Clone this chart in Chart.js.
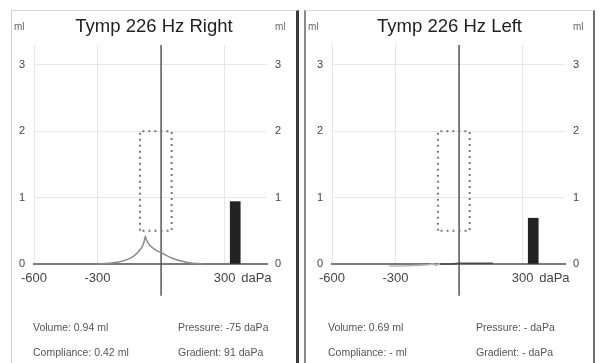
<!DOCTYPE html>
<html>
<head>
<meta charset="utf-8">
<script src="https://cdn.jsdelivr.net/npm/chart.js@4.4.0/dist/chart.umd.min.js"></script>
<style>
body{margin:0;width:600px;height:363px;background:#fff;position:relative;overflow:hidden;font-family:"Liberation Sans",Arial,sans-serif}
.panel{position:absolute;top:10px;height:353px;border-top:1px solid #d6d6d6;box-sizing:border-box}
#p1{left:11px;width:288px;border-left:1px solid #cfcfcf;border-right:3px solid #3a3a3a}
#p2{left:304px;width:291px;border-left:2px solid #8a8a8a;border-right:2px solid #707070}
canvas{position:absolute;left:0;top:0}
.ml{position:absolute;top:10px;font-size:10px;color:#666}
.stat{position:absolute;font-size:10.5px;color:#555;white-space:nowrap}
</style>
</head>
<body>
<div class="panel" id="p1">
  <canvas id="c1" width="284" height="352"></canvas>
  <div class="ml" style="left:2px">ml</div>
  <div class="ml" style="left:263px">ml</div>
  <div class="stat" style="left:21px;top:310px">Volume: 0.94 ml</div>
  <div class="stat" style="left:166px;top:310px">Pressure: -75 daPa</div>
  <div class="stat" style="left:21px;top:335px">Compliance: 0.42 ml</div>
  <div class="stat" style="left:166px;top:335px">Gradient: 91 daPa</div>
</div>
<div class="panel" id="p2">
  <canvas id="c2" width="287" height="352"></canvas>
  <div class="ml" style="left:2px">ml</div>
  <div class="ml" style="left:267px">ml</div>
  <div class="stat" style="left:22px;top:310px">Volume: 0.69 ml</div>
  <div class="stat" style="left:170px;top:310px">Pressure: - daPa</div>
  <div class="stat" style="left:22px;top:335px">Compliance: - ml</div>
  <div class="stat" style="left:170px;top:335px">Gradient: - daPa</div>
</div>
<script>
// tick values / labels
const xTicks = [-600, -300, 0, 300, 450]
const xLabels = ['-600', '-300', '', '300', 'daPa']
const yTicks = [0, 1, 2, 3]

// right ear tympanogram (pressure daPa / compliance ml)
const rightPressure = [-300, -250, -200, -150, -125, -100, -90, -80, -75, -70, -60, -50, -25, 0, 25, 50, 100, 150, 200]
const rightCompliance = [0, 0.01, 0.03, 0.08, 0.13, 0.21, 0.26, 0.34, 0.42, 0.37, 0.31, 0.27, 0.21, 0.17, 0.13, 0.09, 0.04, 0.01, 0]
const rightVolume = 0.94

// left ear tympanogram (flat)
const leftPressure = [-330, -280, -230, -180, -140, -120, -110, -100, -90, -50, 0, 50, 100, 160]
const leftCompliance = [-0.03, -0.03, -0.025, -0.02, -0.01, 0, -0.02, -0.01, 0, 0, 0.01, 0.01, 0.01, 0.01]
const leftVolume = 0.69

// normal range box
const boxPressure = [-100, -100, 50, 50, -100]
const boxCompliance = [0.5, 2, 2, 0.5, 0.5]

const volumeX = 350

const toPoints = (xs, ys) => xs.map((x, i) => ({ x: x, y: ys[i] }))

function makeChart (id, title, pressure, compliance, volume, leftW, rightW, segColor) 
{
  const tickFont = { family: 'Liberation Sans', size: 11 }
  new Chart(document.getElementById(id), {
    type: 'line',
    data: {
      datasets: [
        {
          data: toPoints(pressure, compliance),
          borderColor: '#8a8a8a',
          borderWidth: 1.5,
          pointRadius: 0,
          cubicInterpolationMode: 'monotone',
          clip: false,
          segment: segColor ? { borderColor: segColor } : undefined
        },
        {
          data: toPoints(boxPressure, boxCompliance),
          borderColor: '#777',
          borderWidth: 2,
          borderDash: [2, 4],
          pointRadius: 0,
          tension: 0
        },
        {
          data: [{ x: 0, y: -0.48 }, { x: 0, y: 3.3 }],
          borderColor: '#555',
          borderWidth: 1.5,
          pointRadius: 0,
          clip: false
        },
        {
          type: 'bar',
          data: [{ x: volumeX, y: volume }],
          backgroundColor: '#222',
          barThickness: 10
        }
      ]
    },
    options: {
      responsive: false,
      animation: false,
      layout: { padding: 0 },
      plugins: {
        legend: { display: false },
        tooltip: { enabled: false },
        title: {
          display: true,
          text: title,
          color: '#222',
          font: { family: 'Liberation Sans', size: 18.5, weight: 'normal' },
          padding: { top: 5, bottom: 6.8 }
        }
      },
      scales: {
        x: {
          type: 'linear',
          min: -600,
          max: 500,
          offset: false,
          afterBuildTicks: s => { s.ticks = xTicks.map(v => ({ value: v })) },
          afterFit: s => { s.height = 99 },
          ticks: {
            autoSkip: false,
            maxRotation: 0,
            padding: 7,
            color: '#444',
            font: { family: 'Liberation Sans', size: 13 },
            callback: v => xLabels[xTicks.indexOf(v)]
          },
          grid: {
            offset: false,
            drawTicks: false,
            color: ctx => (ctx.tick && (ctx.tick.value === 0 || ctx.tick.value === 450)) ? 'rgba(0,0,0,0)' : '#e6e6e6'
          },
          border: { display: true, color: '#7a7a7a', width: 2 }
        },
        y: {
          min: 0,
          max: 3.3,
          afterBuildTicks: s => { s.ticks = yTicks.map(v => ({ value: v })) },
          afterFit: s => { s.width = leftW },
          ticks: { padding: 9, color: '#444', font: tickFont },
          grid: {
            drawTicks: false,
            color: ctx => (ctx.tick && ctx.tick.value === 0) ? 'rgba(0,0,0,0)' : '#e6e6e6'
          },
          border: { display: false }
        },
        y2: {
          position: 'right',
          min: 0,
          max: 3.3,
          afterBuildTicks: s => { s.ticks = yTicks.map(v => ({ value: v })) },
          afterFit: s => { s.width = rightW },
          ticks: { padding: 8, color: '#444', font: tickFont },
          grid: { display: false, drawTicks: false },
          border: { display: false }
        }
      }
    }
  })
}

makeChart('c1', 'Tymp 226 Hz Right', rightPressure, rightCompliance, rightVolume, 22, 29)
makeChart('c2', 'Tymp 226 Hz Left', leftPressure, leftCompliance, leftVolume, 26, 28,
  ctx => ctx.p0.parsed.x < -95 ? '#b8b8b8' : '#4a4a4a')
</script>
</body>
</html>
